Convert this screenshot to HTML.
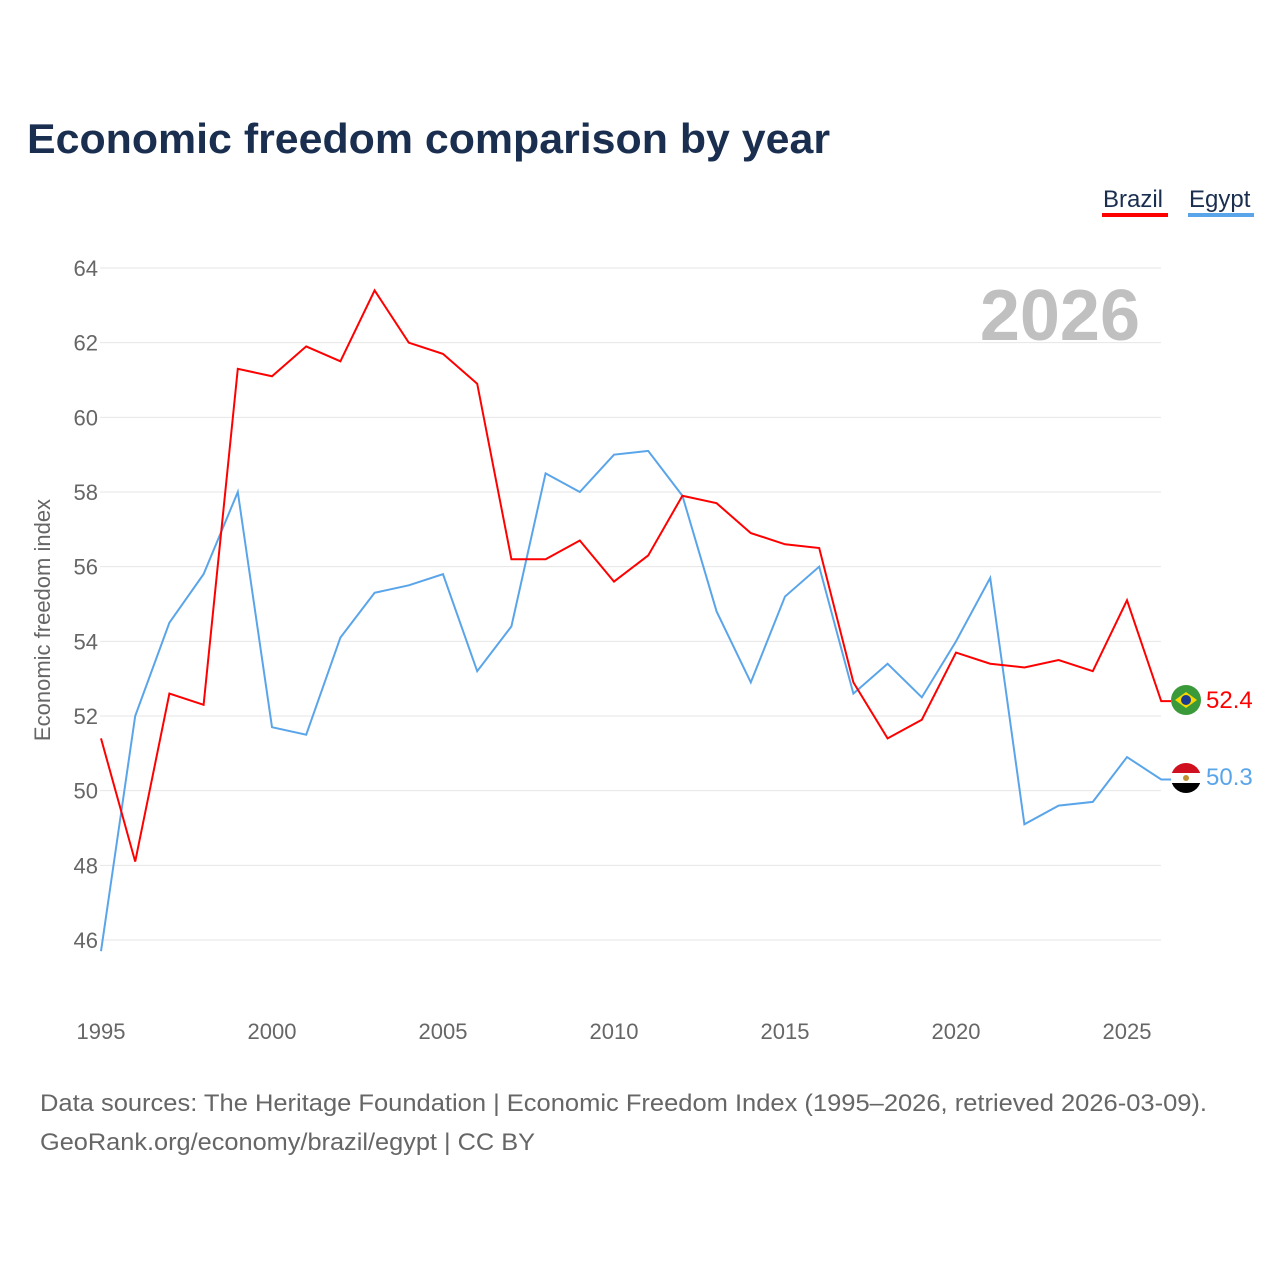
<!DOCTYPE html>
<html><head><meta charset="utf-8">
<style>
body{margin:0;background:#fff;font-family:"Liberation Sans",sans-serif;}
svg text{font-family:"Liberation Sans",sans-serif;}
</style></head>
<body>
<svg width="1280" height="1280" xmlns="http://www.w3.org/2000/svg">
<text x="27" y="153" font-size="42" font-weight="bold" fill="#1a2e4f" textLength="803" lengthAdjust="spacingAndGlyphs">Economic freedom comparison by year</text>
<g>
<text x="1103" y="207" font-size="24" fill="#1a2e4f">Brazil</text>
<rect x="1102" y="213" width="66" height="4" fill="#ff0000"/>
<text x="1189" y="207" font-size="24" fill="#1a2e4f">Egypt</text>
<rect x="1188" y="213" width="66" height="4" fill="#5aa5ea"/>
</g>
<text x="1140" y="340" font-size="72" font-weight="bold" fill="#c0c0c0" text-anchor="end">2026</text>
<g id="grid"></g>
<g id="ticks"></g>
<text transform="translate(50,620) rotate(-90)" font-size="22" fill="#666" text-anchor="middle">Economic freedom index</text>
<g id="series"></g>
<g>
<circle cx="1186" cy="700" r="15" fill="#3a9a3a"/><polygon points="1175,700 1186,692 1197,700 1186,708" fill="#f5d800"/><circle cx="1186" cy="700" r="5" fill="#1a3a8f"/></g>
<g>
<clipPath id="ec"><circle cx="1186" cy="778" r="15"/></clipPath>
<g clip-path="url(#ec)"><rect x="1170" y="762" width="32" height="11" fill="#d0101e"/><rect x="1170" y="773" width="32" height="10" fill="#fff"/><rect x="1170" y="783" width="32" height="11" fill="#000"/><circle cx="1186" cy="778" r="3" fill="#c09030"/></g></g>
<text x="1206" y="708" font-size="24" fill="#ff0000">52.4</text>
<text x="1206" y="785" font-size="24" fill="#5aa5ea">50.3</text>
<text x="40" y="1111" font-size="24" fill="#666" textLength="1167" lengthAdjust="spacingAndGlyphs">Data sources: The Heritage Foundation | Economic Freedom Index (1995–2026, retrieved 2026-03-09).</text>
<text x="40" y="1150" font-size="24" fill="#666" textLength="495" lengthAdjust="spacingAndGlyphs">GeoRank.org/economy/brazil/egypt | CC BY</text>
</svg>
<script>
const years=[1995,1996,1997,1998,1999,2000,2001,2002,2003,2004,2005,2006,2007,2008,2009,2010,2011,2012,2013,2014,2015,2016,2017,2018,2019,2020,2021,2022,2023,2024,2025,2026];
const brazil=[51.4,48.1,52.6,52.3,61.3,61.1,61.9,61.5,63.4,62.0,61.7,60.9,56.2,56.2,56.7,55.6,56.3,57.9,57.7,56.9,56.6,56.5,52.9,51.4,51.9,53.7,53.4,53.3,53.5,53.2,55.1,52.4];
const egypt=[45.7,52.0,54.5,55.8,58.0,51.7,51.5,54.1,55.3,55.5,55.8,53.2,54.4,58.5,58.0,59.0,59.1,57.9,54.8,52.9,55.2,56.0,52.6,53.4,52.5,54.0,55.7,49.1,49.6,49.7,50.9,50.3];
const yTicks=[46,48,50,52,54,56,58,60,62,64];
const xTicks=[1995,2000,2005,2010,2015,2020,2025];
const NS="http://www.w3.org/2000/svg";
const x=v=>101+(v-1995)*34.2;
const y=v=>940-(v-46)*37.333;
function mk(t,a,p){const e=document.createElementNS(NS,t);for(const k in a)e.setAttribute(k,a[k]);p.appendChild(e);return e;}
const grid=document.getElementById('grid'),ticks=document.getElementById('ticks'),ser=document.getElementById('series');
yTicks.forEach(v=>{
 const l=mk('line',{x1:100,x2:1161,y1:y(v),y2:y(v),stroke:'#e6e6e6','stroke-width':1},grid);
 
 
 const t=mk('text',{x:98,y:y(v)+8,'font-size':22,fill:'#666','text-anchor':'end'},ticks);
 t.textContent=v;
 
 
});
xTicks.forEach(v=>{
 const t=mk('text',{x:x(v),y:1039,'font-size':22,fill:'#666','text-anchor':'middle'},ticks);
 t.textContent=v;
 
 
});
function line(d,c,n){
 const pts=d.map((v,i)=>x(years[i])+','+y(v));
 pts.push((x(years[years.length-1])+10)+','+y(d[d.length-1]));
 const p=mk('polyline',{points:pts.join(' '),fill:'none',stroke:c,'stroke-width':2},ser);
 
 
}
line(egypt,'#5aa5ea','egypt-line');
line(brazil,'#ff0000','brazil-line');
</script>
</body></html>
